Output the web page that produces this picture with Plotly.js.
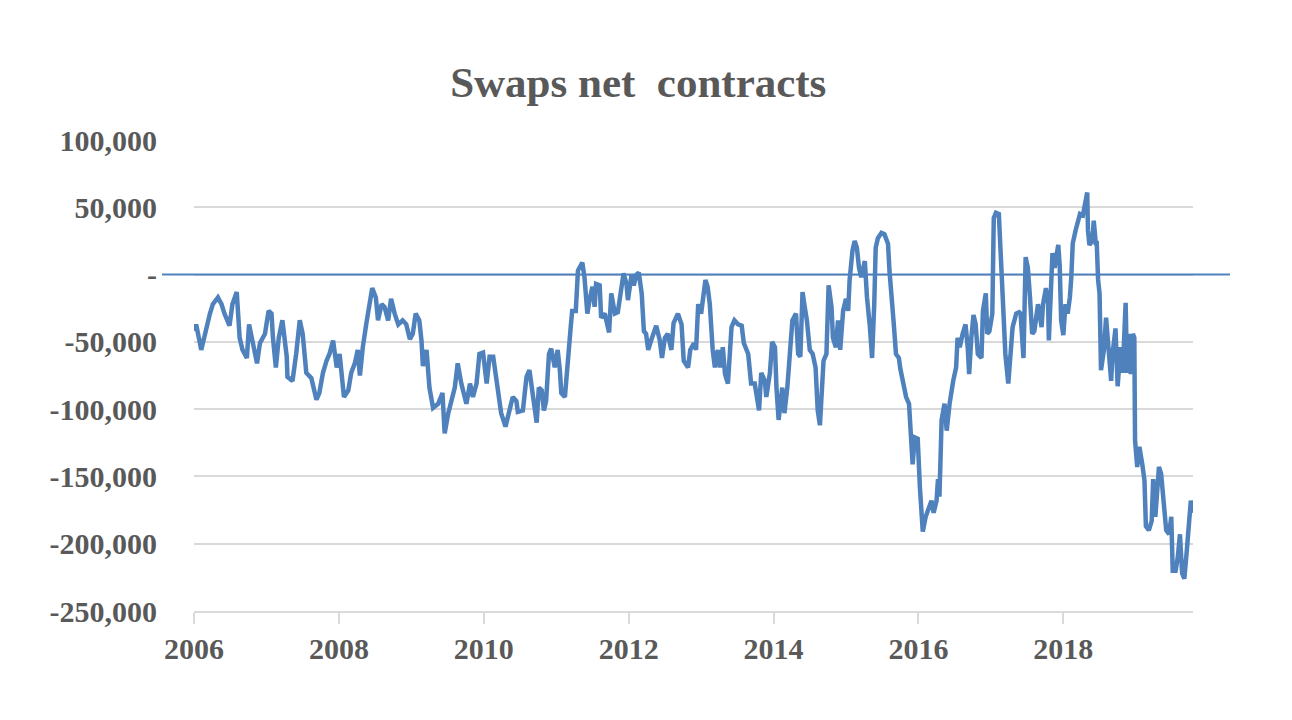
<!DOCTYPE html>
<html>
<head>
<meta charset="utf-8">
<script src="https://cdn.plot.ly/plotly-3.0.1.min.js"></script>
<style>html,body{margin:0;padding:0;background:#fff;}#chart{width:1292px;height:720px;}</style>
</head>
<body>
<div id="chart"></div>
<script>
// Time in decimal years
const dates = [
2006.01,2006.03,2006.10,2006.15,2006.22,2006.26,2006.33,2006.38,2006.42,2006.49,2006.53,2006.59,2006.63,2006.67,2006.73,2006.76,2006.79,2006.87,2006.91,2006.98,
2007.00,2007.03,2007.07,2007.09,2007.13,2007.17,2007.22,2007.28,2007.29,2007.36,2007.41,2007.46,2007.50,2007.55,2007.62,2007.67,2007.69,2007.73,2007.78,2007.83,2007.87,2007.92,2007.97,
2008.01,2008.07,2008.13,2008.17,2008.22,2008.26,2008.29,2008.33,2008.38,2008.43,2008.46,2008.51,2008.54,2008.59,2008.63,2008.68,2008.72,2008.77,2008.82,2008.88,2008.93,2008.98,
2009.02,2009.06,2009.11,2009.14,2009.16,2009.21,2009.25,2009.30,2009.37,2009.43,2009.46,2009.51,2009.55,2009.60,2009.64,2009.69,2009.76,2009.81,2009.85,2009.90,2009.94,2009.99,
2010.04,2010.08,2010.13,2010.17,2010.24,2010.30,2010.36,2010.40,2010.45,2010.47,2010.54,2010.59,2010.63,2010.68,2010.73,2010.76,2010.80,2010.83,2010.86,2010.90,2010.93,2010.98,
2011.02,2011.05,2011.07,2011.12,2011.16,2011.20,2011.22,2011.27,2011.30,2011.36,2011.39,2011.43,2011.46,2011.50,2011.53,2011.55,2011.60,2011.62,2011.67,2011.73,2011.76,2011.81,2011.85,2011.90,2011.93,2011.97,2011.99,
2012.04,2012.07,2012.11,2012.14,2012.18,2012.21,2012.24,2012.27,2012.31,2012.38,2012.43,2012.46,2012.50,2012.54,2012.59,2012.62,2012.68,2012.73,2012.76,2012.82,2012.85,2012.90,2012.93,2012.96,
2013.00,2013.04,2013.06,2013.09,2013.12,2013.16,2013.19,2013.23,2013.26,2013.30,2013.33,2013.37,2013.42,2013.46,2013.51,2013.56,2013.59,2013.65,2013.69,2013.74,2013.77,2013.80,2013.83,2013.88,2013.90,2013.95,2013.98,
2014.02,2014.04,2014.07,2014.12,2014.15,2014.19,2014.22,2014.26,2014.31,2014.34,2014.37,2014.40,2014.43,2014.46,2014.50,2014.54,2014.58,2014.61,2014.64,2014.67,2014.69,2014.73,2014.76,2014.80,2014.82,2014.86,2014.89,2014.92,2014.96,
2015.00,2015.03,2015.05,2015.09,2015.12,2015.15,2015.18,2015.21,2015.26,2015.29,2015.33,2015.36,2015.39,2015.41,2015.44,2015.49,2015.53,2015.58,2015.60,2015.63,2015.66,2015.69,2015.73,2015.75,2015.79,2015.83,2015.87,2015.89,2015.92,2015.95,2015.99,
2016.02,2016.04,2016.06,2016.10,2016.13,2016.18,2016.21,2016.25,2016.27,2016.29,2016.32,2016.36,2016.39,2016.43,2016.48,2016.52,2016.54,2016.57,2016.61,2016.65,2016.68,2016.70,2016.73,2016.76,2016.79,2016.82,2016.87,2016.89,2016.93,2016.95,2016.98,
2017.02,2017.04,2017.07,2017.11,2017.14,2017.18,2017.20,2017.24,2017.27,2017.30,2017.35,2017.39,2017.41,2017.43,2017.45,2017.48,2017.51,2017.54,2017.57,2017.60,2017.65,2017.70,2017.72,2017.76,2017.79,2017.80,2017.82,2017.85,2017.88,2017.93,2017.95,2017.97,
2018.00,2018.03,2018.06,2018.09,2018.11,2018.13,2018.17,2018.20,2018.23,2018.27,2018.29,2018.33,2018.34,2018.36,2018.40,2018.42,2018.45,2018.46,2018.48,2018.50,2018.52,2018.56,2018.59,2018.63,2018.66,2018.68,2018.72,2018.75,2018.79,2018.82,2018.84,2018.86,2018.88,2018.91,2018.93,2018.96,2018.98,2018.99,
2019.02,2019.05,2019.09,2019.12,2019.14,2019.18,2019.22,2019.24,2019.27,2019.30,2019.32,2019.35,2019.38,2019.42,2019.46,2019.49,2019.51,2019.55,2019.58,2019.61,2019.64,2019.67,2019.70,2019.73,2019.76,2019.79
];
// Swaps net contracts
const netContracts = [
-42000,-37000,-56000,-44000,-29000,-22000,-17000,-22000,-29000,-38000,-22000,-13000,-47000,-56000,-62000,-37000,-44000,-66000,-51000,-44000,
-37000,-27000,-29000,-47000,-69000,-47000,-34000,-61000,-76000,-79000,-59000,-34000,-44000,-73000,-77000,-88000,-93000,-88000,-73000,-64000,-59000,-49000,-69000,
-59000,-91000,-86000,-73000,-66000,-56000,-75000,-54000,-36000,-19000,-10000,-17000,-34000,-22000,-24000,-34000,-18000,-29000,-37000,-34000,-37000,-48000,
-44000,-29000,-34000,-49000,-68000,-56000,-84000,-99000,-96000,-88000,-118000,-103000,-94000,-84000,-66000,-81000,-96000,-81000,-91000,-81000,-59000,-58000,
-81000,-61000,-61000,-76000,-103000,-113000,-99000,-91000,-94000,-102000,-101000,-76000,-71000,-91000,-110000,-84000,-86000,-101000,-94000,-59000,-55000,-69000,
-56000,-71000,-88000,-91000,-59000,-39000,-27000,-27000,3000,9000,-2000,-29000,-19000,-9000,-24000,-7000,-8000,-32000,-29000,-43000,-14000,-29000,-28000,-9000,1000,-7000,-19000,
0,-8000,0,1500,-14000,-42000,-44000,-56000,-49000,-38000,-49000,-62000,-47000,-44000,-56000,-36000,-29000,-37000,-64000,-69000,-56000,-51000,-56000,-22000,
-29000,-14000,-4000,-9000,-22000,-56000,-69000,-56000,-69000,-54000,-74000,-81000,-39000,-34000,-37000,-38000,-51000,-59000,-81000,-81000,-93000,-101000,-73000,-79000,-91000,-73000,-50000,
-54000,-84000,-108000,-84000,-103000,-84000,-59000,-34000,-29000,-59000,-61000,-13000,-24000,-34000,-56000,-59000,-69000,-101000,-112000,-88000,-64000,-59000,-8000,-24000,-47000,-54000,-34000,-56000,-27000,
-18000,-27000,-4000,18000,25000,20000,5000,-2000,10000,-17000,-39000,-62000,-22000,20000,27000,31000,30000,23000,3000,-22000,-37000,-59000,-62000,-70000,-79000,-91000,-96000,-118000,-141000,-121000,-122000,
-158000,-178000,-191000,-180000,-175000,-168000,-177000,-168000,-152000,-165000,-108000,-96000,-116000,-96000,-79000,-69000,-47000,-54000,-44000,-37000,-54000,-74000,-47000,-30000,-37000,-59000,-62000,-27000,-14000,-44000,-42000,
-29000,42000,46000,45000,10000,-34000,-59000,-81000,-59000,-39000,-29000,-28000,-29000,-54000,-62000,13000,5000,-17000,-44000,-42000,-22000,-39000,-22000,-10000,-22000,-49000,-14000,16000,5000,22000,7000,-34000,
-45000,-22000,-29000,-17000,-2000,23000,33000,38000,45000,44000,50000,61000,33000,22000,25000,40000,22000,25000,-4000,-14000,-71000,-56000,-32000,-54000,-79000,-59000,-40000,-83000,-54000,-73000,-32000,-21000,-73000,-44000,-74000,-44000,-47000,-123000,
-143000,-128000,-141000,-153000,-187000,-190000,-183000,-152000,-180000,-160000,-143000,-148000,-170000,-190000,-193000,-180000,-220000,-220000,-210000,-193000,-222000,-226000,-208000,-190000,-168000,-177000
];
const yTickVals = [100000,50000,0,-50000,-100000,-150000,-200000,-250000];
const yTickText = ['100,000','50,000','-','-50,000','-100,000','-150,000','-200,000','-250,000'];
const xTickVals = [2006,2008,2010,2012,2014,2016,2018];
const xTickText = ['2006','2008','2010','2012','2014','2016','2018'];

const fontFam = '"Liberation Serif", "DejaVu Serif", serif';
const textColor = '#595959';

const trace = {
  x: dates, y: netContracts, type: 'scatter', mode: 'lines',
  line: {color: '#4f81bd', width: 4.5, shape: 'linear'},
  hoverinfo: 'x+y'
};

const layout = {
  width: 1292, height: 720,
  margin: {l: 194, r: 99, t: 140, b: 109, pad: 0},
  paper_bgcolor: '#ffffff', plot_bgcolor: '#ffffff',
  showlegend: false,
  title: {text: '<b>Swaps net  contracts</b>', x: 0.494, xanchor: 'center', y: 0.865, yanchor: 'bottom',
          font: {family: fontFam, size: 43, color: textColor}},
  xaxis: {
    range: [2006, 2019.79], tickvals: xTickVals, ticktext: xTickText,
    showgrid: false, zeroline: false, showline: true, linecolor: '#d9d9d9', linewidth: 2,
    ticks: 'outside', ticklen: 11, tickwidth: 2, tickcolor: '#d9d9d9',
    ticklabelstandoff: -1,
    tickfont: {family: fontFam, size: 30, color: textColor, weight: 'bold'}
  },
  yaxis: {
    range: [-250000, 100000], tickvals: yTickVals, ticktext: yTickText,
    showgrid: true, gridcolor: '#d9d9d9', gridwidth: 2,
    zeroline: false, showline: false, ticks: '',
    ticklabelstandoff: 36,
    tickfont: {family: fontFam, size: 30, color: textColor, weight: 'bold'}
  },
  shapes: [{
    type: 'line', xref: 'paper', yref: 'y', x0: -0.032, x1: 1.037, y0: 0, y1: 0,
    line: {color: '#4f81bd', width: 2}, layer: 'above'
  }]
};

Plotly.newPlot('chart', [trace], layout, {staticPlot: true, displayModeBar: false});
</script>
</body>
</html>
